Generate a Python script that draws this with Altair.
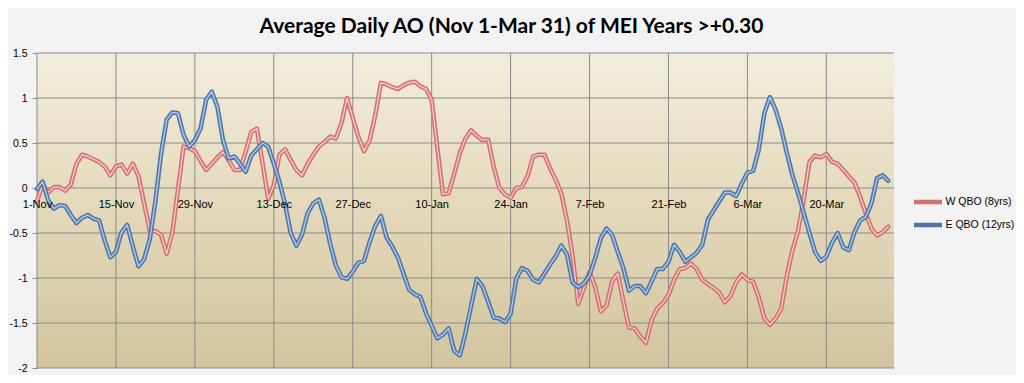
import altair as alt
import pandas as pd

title_text = "Average Daily AO (Nov 1-Mar 31) of MEI Years >+0.30"
tick_labels = ["1-Nov", "15-Nov", "29-Nov", "13-Dec", "27-Dec", "10-Jan",
               "24-Jan", "7-Feb", "21-Feb", "6-Mar", "20-Mar"]
tick_days = [0, 14, 28, 42, 56, 70, 84, 98, 112, 126, 140]
y_ticks = [-2, -1.5, -1, -0.5, 0, 0.5, 1, 1.5]
series_names = ["W QBO (8yrs)", "E QBO (12yrs)"]

w_qbo = [
    -0.15, 0.04, -0.05, 0.01, 0.01, -0.03, 0.04, 0.27, 0.37, 0.35,
    0.32, 0.29, 0.24, 0.14, 0.24, 0.26, 0.16, 0.27, 0.13, -0.17,
    -0.47, -0.48, -0.52, -0.73, -0.50, -0.02, 0.46, 0.44, 0.41, 0.30,
    0.20, 0.27, 0.34, 0.40, 0.31, 0.20, 0.20, 0.40, 0.62, 0.66,
    0.28, -0.12, 0.03, 0.37, 0.43, 0.31, 0.20, 0.14, 0.27, 0.37,
    0.46, 0.51, 0.57, 0.55, 0.72, 1.00, 0.78, 0.57, 0.41, 0.53,
    0.81, 1.17, 1.15, 1.12, 1.10, 1.14, 1.17, 1.18, 1.13, 1.10,
    0.98, 0.45, -0.07, -0.06, 0.16, 0.39, 0.55, 0.64, 0.58, 0.53,
    0.54, 0.24, 0.00, -0.07, -0.11, 0.00, 0.01, 0.13, 0.35, 0.37,
    0.37, 0.22, 0.09, -0.06, -0.36, -0.76, -1.29, -1.11, -0.93, -1.10,
    -1.37, -1.31, -1.04, -0.95, -1.26, -1.55, -1.56, -1.65, -1.72, -1.47,
    -1.34, -1.28, -1.19, -1.02, -0.90, -0.89, -0.84, -0.90, -1.02, -1.07,
    -1.11, -1.16, -1.27, -1.20, -1.05, -0.96, -1.02, -1.04, -1.21, -1.45,
    -1.52, -1.45, -1.34, -0.97, -0.69, -0.47, -0.12, 0.29, 0.36, 0.34,
    0.38, 0.29, 0.27, 0.20, 0.13, 0.06, -0.10, -0.28, -0.45, -0.53,
    -0.49, -0.43,
]

e_qbo = [
    -0.01, 0.07, -0.14, -0.23, -0.19, -0.20, -0.30, -0.39, -0.33, -0.30,
    -0.34, -0.36, -0.58, -0.77, -0.71, -0.49, -0.41, -0.65, -0.87, -0.79,
    -0.57, -0.15, 0.38, 0.76, 0.84, 0.83, 0.59, 0.46, 0.53, 0.66,
    0.98, 1.07, 0.90, 0.53, 0.33, 0.35, 0.27, 0.18, 0.36, 0.43,
    0.50, 0.46, 0.27, 0.07, -0.18, -0.50, -0.64, -0.52, -0.28, -0.17,
    -0.13, -0.33, -0.62, -0.86, -0.99, -1.01, -0.93, -0.83, -0.81, -0.60,
    -0.42, -0.31, -0.55, -0.65, -0.77, -0.95, -1.13, -1.18, -1.21, -1.39,
    -1.53, -1.67, -1.63, -1.56, -1.81, -1.86, -1.61, -1.31, -1.01, -1.09,
    -1.26, -1.44, -1.45, -1.49, -1.40, -1.01, -0.89, -0.92, -1.02, -1.05,
    -0.95, -0.85, -0.76, -0.64, -0.74, -1.05, -1.10, -1.06, -0.97, -0.78,
    -0.56, -0.45, -0.52, -0.71, -0.89, -1.14, -1.09, -1.09, -1.17, -1.04,
    -0.90, -0.90, -0.82, -0.63, -0.71, -0.82, -0.77, -0.72, -0.63, -0.35,
    -0.25, -0.15, -0.05, -0.05, -0.09, 0.05, 0.17, 0.19, 0.42, 0.83,
    1.01, 0.87, 0.66, 0.39, 0.14, -0.06, -0.28, -0.50, -0.71, -0.81,
    -0.76, -0.61, -0.50, -0.66, -0.69, -0.49, -0.36, -0.32, -0.17, 0.11,
    0.14, 0.08,
]

outer_colors = ["#d36f6f", "#4c76aa"]
inner_colors = ["#f3caca", "#b3c8e2"]
GRID = "#8a8a8a"
AXIS_FONT = "Liberation Sans"

n = len(w_qbo)
df = pd.DataFrame({
    "day": list(range(n)) + list(range(len(e_qbo))),
    "value": w_qbo + e_qbo,
    "series": [series_names[0]] * n + [series_names[1]] * len(e_qbo),
})
ticks_df = pd.DataFrame({"day": tick_days})
yticks_df = pd.DataFrame({"v": y_ticks})

W, H = 857, 315
x_scale = alt.Scale(domain=[0, 152], nice=False, zero=False)
y_scale = alt.Scale(domain=[-2, 1.5], nice=False, zero=False)

label_expr = "[" + ",".join("'%s'" % t for t in tick_labels) + "][round(datum.value/14)]"

label_x_axis = alt.Axis(values=tick_days, grid=False, labels=True, labelExpr=label_expr,
                        ticks=False, domain=False, title=None, offset=-180,
                        labelPadding=10, labelFont=AXIS_FONT, labelFontSize=11,
                        labelColor="#000000", labelOverlap=False, labelFlush=False,
                        zindex=1)
y_axis = alt.Axis(values=y_ticks, labelExpr="'' + datum.value", grid=False,
                  tickColor=GRID, tickSize=5,
                  domainColor=GRID, domainWidth=1, labelPadding=5, title=None,
                  labelFont=AXIS_FONT, labelFontSize=10.5, labelColor="#000000")

legend_common = dict(title=None, orient="none", legendX=877, legendY=135,
                     symbolType="M-1.22,0H1.22", symbolSize=529, labelFont=AXIS_FONT,
                     labelFontSize=10.5, labelColor="#000000", labelOffset=3.5,
                     rowPadding=0, padding=0, labelLimit=200)
legend_outer = alt.Legend(symbolStrokeWidth=4.5, zindex=1, **legend_common)
legend_inner = alt.Legend(symbolStrokeWidth=1.4, zindex=2, **legend_common)

bg_gradient = alt.LinearGradient(
    gradient="linear", x1=0, y1=0, x2=0, y2=1,
    stops=[alt.GradientStop(color="#f2eddc", offset=0),
           alt.GradientStop(color="#e3d8b9", offset=0.5),
           alt.GradientStop(color="#d2c49e", offset=1)])

background = alt.Chart(pd.DataFrame({"k": [0]})).mark_rect(color=bg_gradient).encode(
    x=alt.value(0), x2=alt.value(W), y=alt.value(0), y2=alt.value(H)
)

x_grid = alt.Chart(ticks_df).mark_rule(color=GRID, strokeWidth=1).encode(
    x=alt.X("day:Q", scale=x_scale, axis=None)
)
y_grid = alt.Chart(yticks_df).mark_rule(color=GRID, strokeWidth=1).encode(
    y=alt.Y("v:Q", scale=y_scale, axis=y_axis)
)

base = alt.Chart(df).transform_calculate(series_in="datum.series")


def line_layer(name, width, channel):
    enc = dict(
        x=alt.X("day:Q", scale=x_scale, axis=None),
        y=alt.Y("value:Q", scale=y_scale, axis=y_axis),
    )
    if channel == "stroke":
        enc["stroke"] = alt.Stroke("series:N", scale=alt.Scale(domain=series_names, range=outer_colors),
                                   legend=legend_outer)
    else:
        enc["color"] = alt.Color("series_in:N", scale=alt.Scale(domain=series_names, range=inner_colors),
                                 legend=legend_inner)
    return (base.transform_filter(alt.datum.series == name)
            .mark_line(strokeWidth=width, strokeJoin="round", strokeCap="round")
            .encode(**enc))


red_outer = line_layer(series_names[0], 4.5, "stroke")
red_inner = line_layer(series_names[0], 1.4, "color")
blue_outer = line_layer(series_names[1], 4.5, "stroke")
blue_inner = line_layer(series_names[1], 1.4, "color")

label_layer = alt.Chart(ticks_df).mark_point(opacity=0).encode(
    x=alt.X("day:Q", scale=x_scale, axis=label_x_axis),
    y=alt.value(0),
)

chart = (
    alt.layer(background, x_grid, y_grid, red_outer, red_inner, blue_outer, blue_inner, label_layer)
    .resolve_axis(x="independent")
    .properties(
        width=W, height=H,
        title=alt.TitleParams(text=title_text, font="Lato", fontSize=21, fontWeight="bold",
                              anchor="middle", dx=46, offset=11, color="#000000"),
        autosize=alt.AutoSizeParams(type="none"),
        padding={"left": 29, "top": 45, "right": 122, "bottom": 7},
    )
    .configure(background="#f2f2f2")
    .configure_view(stroke=None)
)

chart.save("out.html", embed_options={"renderer": "svg", "actions": False})
